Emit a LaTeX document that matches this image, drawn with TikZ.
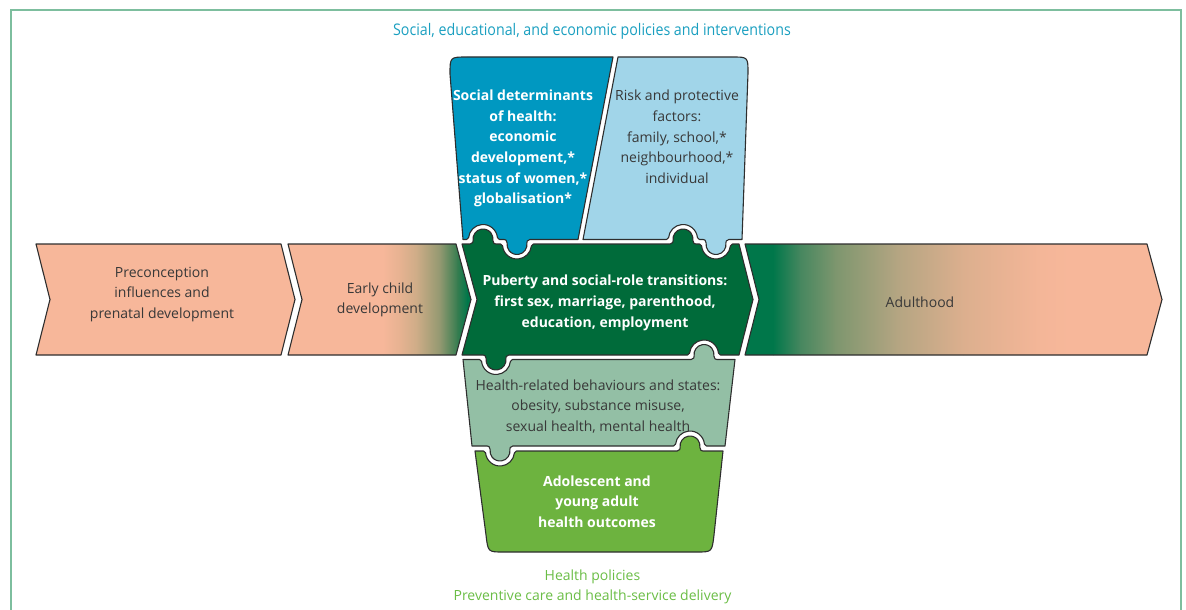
\documentclass[tikz,border=0pt]{standalone}
\usepackage{fontspec}
\setmainfont{Open Sans}
\usepackage{graphicx}
\definecolor{csalmon}{HTML}{F7B79A}
\definecolor{cdg}{HTML}{00774A}
\definecolor{cgreen}{HTML}{006B3A}
\definecolor{cblue}{HTML}{0098C1}
\definecolor{clblue}{HTML}{A1D5E9}
\definecolor{cmgreen}{HTML}{93BFA5}
\definecolor{cbgreen}{HTML}{6DB33F}
\definecolor{cline}{HTML}{2E2E2E}
\definecolor{ctext}{HTML}{383838}
\definecolor{ctitle}{HTML}{1A9FC0}
\definecolor{cbot}{HTML}{6ABD45}
\definecolor{cframe}{HTML}{7DBE9E}
% gradient stops
\definecolor{ea}{RGB}{230,178,145}
\definecolor{eb}{RGB}{205,172,135}
\definecolor{ec}{RGB}{145,152,112}
\definecolor{ed}{RGB}{55,125,80}
\definecolor{aa}{RGB}{70,135,95}
\definecolor{ab}{RGB}{125,150,110}
\definecolor{ac}{RGB}{180,165,130}
\definecolor{ad}{RGB}{220,175,142}
\definecolor{ae}{RGB}{244,182,152}
\pgfmathsetmacro\knR{10}
\pgfmathsetmacro\knC{5}
\pgfmathsetmacro\knF{3}
\pgfmathsetmacro\knX{sqrt((\knR+\knF)^2-(\knC-\knF)^2)}
\pgfmathsetmacro\knP{atan2(\knC-\knF,\knX)}
\pgfmathsetmacro\skR{14.5}
\pgfmathsetmacro\skC{0.5}
\pgfmathsetmacro\skF{2}
\pgfmathsetmacro\skX{sqrt((\skR+\skF)^2-(\skC-\skF)^2)}
\pgfmathsetmacro\skP{atan2(\skC-\skF,\skX)}
\newcommand\gradseg[4]{\shade[left color=#3, right color=#4] (#1,-240) rectangle ({#2+0.6},-360);}
\tikzset{
  knobLR/.style n args={3}{insert path={-- ({#1-\knX},{#2})
     arc[start angle={-90*(#3)}, delta angle={(#3)*(90+(\knP))}, radius=\knF]
     arc[start angle={(#3)*(180+(\knP))}, delta angle={-1*(#3)*(180+2*(\knP))}, radius=\knR]
     arc[start angle={(#3)*(180-(\knP))}, delta angle={(#3)*(90+(\knP))}, radius=\knF]}},
  sockLR/.style n args={3}{insert path={-- ({#1-\skX},{#2})
     arc[start angle={-90*(#3)}, delta angle={(#3)*(90+(\skP))}, radius=\skF]
     arc[start angle={(#3)*(180+(\skP))}, delta angle={-1*(#3)*(180+2*(\skP))}, radius=\skR]
     arc[start angle={(#3)*(180-(\skP))}, delta angle={(#3)*(90+(\skP))}, radius=\skF]}},
  knobRL/.style n args={3}{insert path={-- ({#1+\knX},{#2})
     arc[start angle={-90*(#3)}, delta angle={-1*(#3)*(90+(\knP))}, radius=\knF]
     arc[start angle={-1*(#3)*(\knP)}, delta angle={(#3)*(180+2*(\knP))}, radius=\knR]
     arc[start angle={(#3)*(\knP)}, delta angle={-1*(#3)*(90+(\knP))}, radius=\knF]}},
  sockRL/.style n args={3}{insert path={-- ({#1+\skX},{#2})
     arc[start angle={-90*(#3)}, delta angle={-1*(#3)*(90+(\skP))}, radius=\skF]
     arc[start angle={-1*(#3)*(\skP)}, delta angle={(#3)*(180+2*(\skP))}, radius=\skR]
     arc[start angle={(#3)*(\skP)}, delta angle={-1*(#3)*(90+(\skP))}, radius=\skF]}},
  piece/.style={draw=cline, line width=1.1pt, line join=round},
  tx/.style={align=center, inner sep=0pt, text=ctext, font=\fontsize{14}{20.7}\selectfont},
  txb/.style={align=center, inner sep=0pt, text=white, font=\fontsize{14}{20.7}\selectfont\bfseries},
}
\begin{document}
\begin{tikzpicture}[x=1pt,y=1pt]
\useasboundingbox (0,0) rectangle (1186,-610);
% frame
\draw[cframe, line width=2pt] (11,-611) -- (11,-10) -- (1181,-10) -- (1181,-611);
% chevrons
\draw[piece, fill=csalmon] (36,-244) -- (281,-244) -- (295,-299.5) -- (281,-355) -- (36,-355) -- (50,-299.5) -- cycle;
\begin{scope}
  \clip (288,-244) -- (456,-244) -- (471,-299.5) -- (456,-355) -- (288,-355) -- (302,-299.5) -- cycle;
  \fill[csalmon] (280,-240) rectangle (383.5,-360);
  \gradseg{383}{400}{csalmon}{ea}
  \gradseg{400}{417}{ea}{eb}
  \gradseg{417}{440}{eb}{ec}
  \gradseg{440}{457}{ec}{ed}
  \gradseg{457}{467}{ed}{cdg}
  \fill[cdg] (467,-240) rectangle (480,-360);
\end{scope}
\draw[piece] (288,-244) -- (456,-244) -- (471,-299.5) -- (456,-355) -- (288,-355) -- (302,-299.5) -- cycle;
\begin{scope}
  \clip (745,-244) -- (1147,-244) -- (1162,-299.5) -- (1147,-355) -- (745,-355) -- (759,-299.5) -- cycle;
  \fill[cdg] (740,-240) rectangle (773.5,-360);
  \gradseg{773}{800}{cdg}{aa}
  \gradseg{800}{835}{aa}{ab}
  \gradseg{835}{897}{ab}{ac}
  \gradseg{897}{963}{ac}{ad}
  \gradseg{963}{1040}{ad}{ae}
  \gradseg{1040}{1070}{ae}{csalmon}
  \fill[csalmon] (1070,-240) rectangle (1170,-360);
\end{scope}
\draw[piece] (745,-244) -- (1147,-244) -- (1162,-299.5) -- (1147,-355) -- (745,-355) -- (759,-299.5) -- cycle;
% centre piece
\draw[piece, fill=cgreen] (462,-244) [knobLR={483}{-244}{1}] [sockLR={517}{-244}{-1}] [knobLR={683}{-244}{1}] [sockLR={716}{-244}{-1}]
  -- (739,-244) -- (753,-299.5) -- (739,-355) [sockRL={704}{-355}{1}] [knobRL={496}{-355}{-1}] -- (462,-355) -- (477,-299.5) -- cycle;
% top pieces
\draw[piece, fill=cblue] (463,-239.5) -- (450,-74) .. controls (450,-57) .. (467,-57) -- (613,-57) -- (578,-239.5)
  [knobRL={517}{-239.5}{-1}] [sockRL={483}{-239.5}{1}] -- cycle;
\draw[piece, fill=clblue] (618,-57) -- (732,-57) .. controls (748,-57) .. (748,-73) -- (742,-239.5)
  [knobRL={716}{-239.5}{-1}] [sockRL={683}{-239.5}{1}] -- (583,-239.5) -- cycle;
% lower pieces
\draw[piece, fill=cmgreen] (463,-359.5) [sockLR={496}{-359.5}{-1}] [knobLR={704}{-359.5}{1}] -- (735,-359.5) -- (725,-446)
  [sockRL={690}{-446}{1}] [knobRL={500}{-446}{-1}] -- (472,-446) -- cycle;
\draw[piece, fill=cbgreen] (475,-451) [sockLR={500}{-451}{-1}] [knobLR={690}{-451}{1}] -- (723,-451) -- (714,-535)
  .. controls (712,-552) .. (697,-552) -- (503,-552) .. controls (488,-552) .. (486,-535) -- cycle;
% texts
\node[text=ctitle, inner sep=0pt, font=\fontsize{16}{19}\selectfont] (title) at (592,-31) {\scalebox{0.89}[1]{Social, educational, and economic policies and interventions}};
\node[txb] (social) at (523,-148.5) {Social determinants\\of health:\\economic\\development,*\\status of women,*\\globalisation*};
\node[tx] (risk) at (677,-137) {Risk and protective\\factors:\\family, school,*\\neighbourhood,*\\individual};
\node[tx] (precon) at (162,-294.5) {Preconception\\influences and\\prenatal development};
\node[tx] (early) at (380,-300) {Early child\\development};
\node[txb] (puberty) at (605,-303) {Puberty and social-role transitions:\\first sex, marriage, parenthood,\\education, employment};
\node[tx] (adult) at (920,-302.5) {Adulthood};
\node[tx] (behav) at (598,-406.5) {Health-related behaviours and states:\\obesity, substance misuse,\\sexual health, mental health};
\node[txb] (outcome) at (597,-501.5) {Adolescent and\\young adult\\health outcomes};
\node[tx, text=cbot] (hpol) at (592.5,-587) {Health policies\\Preventive care and health-service delivery};
\end{tikzpicture}
\end{document}
